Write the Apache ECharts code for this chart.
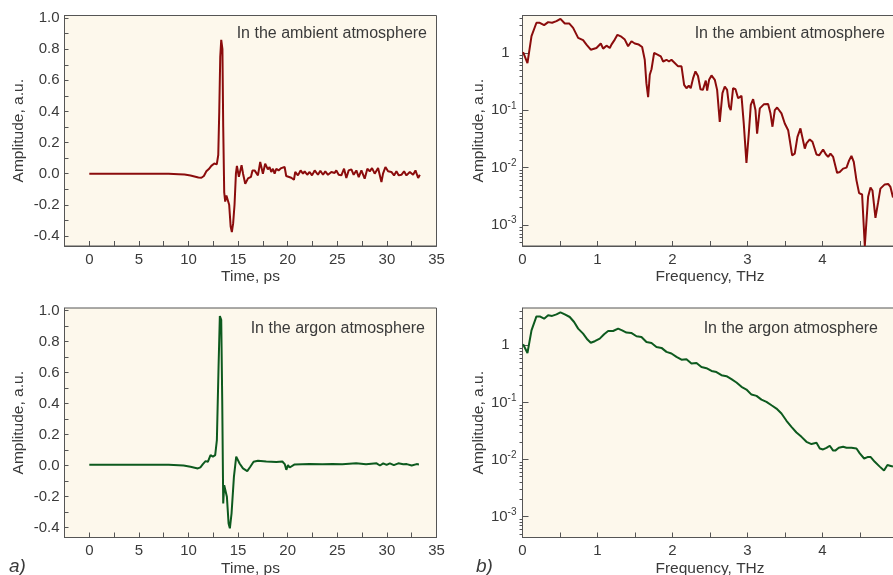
<!DOCTYPE html>
<html>
<head>
<meta charset="utf-8">
<script src="https://cdn.jsdelivr.net/npm/echarts@6/dist/echarts.min.js"></script>
<style>
html, body { margin: 0; padding: 0; background: #fff; }
#chart { width: 893px; height: 575px; }
</style>
</head>
<body>
<div id="chart"></div>
<script>
// time-domain pulse, ambient atmosphere
const timeAmbient = [0, 1, 2, 3, 4, 5, 6, 7, 8, 9, 9.6, 10.2, 10.7, 11.0, 11.3, 11.55, 11.8, 12.05, 12.3, 12.6, 12.85,
	13.0, 13.1, 13.2, 13.3, 13.42, 13.5, 13.6, 13.7, 13.82, 13.95, 14.1, 14.25, 14.37, 14.5, 14.64, 14.78, 14.88,
	15.08, 15.35, 15.5, 15.72, 16.0, 16.3, 16.45, 16.66, 17.0, 17.23, 17.5, 17.73, 18.0, 18.17, 18.34, 18.51, 18.68,
	18.85, 19.08, 19.35, 19.52, 19.69, 19.85, 20.02, 20.36, 20.63, 20.76, 21.03, 21.3, 21.54, 21.71, 21.97, 22.21,
	22.45, 22.72, 22.88, 23.05, 23.29, 23.56, 23.79, 24.06, 24.4, 24.73, 24.9, 25.14, 25.41, 25.68, 25.91, 26.15,
	26.42, 26.65, 26.92, 27.16, 27.43, 27.76, 28.03, 28.27, 28.5, 28.77, 29.11, 29.45, 29.61, 29.85, 30.12, 30.45,
	30.72, 30.96, 31.2, 31.46, 31.73, 31.97, 32.31, 32.64, 32.88, 33.15, 33.32]
const ampAmbient = [0, 0, 0, 0, 0, 0, 0, 0, -0.001, -0.003, -0.006, -0.012, -0.02, -0.025, -0.026, -0.015, 0.015, 0.03, 0.05, 0.065, 0.06,
	0.12, 0.4, 0.75, 0.86, 0.8, 0.3, -0.12, -0.18, -0.14, -0.15, -0.2, -0.34, -0.375, -0.32, -0.2, 0.0, 0.05,
	-0.02, 0.055, 0.0, -0.065, -0.03, -0.02, 0.02, 0.021, -0.011, 0.075, 0.0, 0.064, 0.028, 0.043, 0.011, 0.032, 0.0,
	0.032, 0.021, 0.036, 0.032, 0.043, -0.015, -0.022, -0.026, -0.039, 0.011, -0.011, 0.021, 0.0, 0.015, -0.007, 0.011,
	-0.011, 0.021, 0.032, -0.007, 0.019, -0.007, 0.015, -0.007, 0.011, 0.004, 0.021, -0.007, -0.011, 0.032, -0.028, 0.021,
	0.028, -0.007, 0.021, -0.022, 0.021, -0.032, 0.032, 0.015, 0.036, 0.0, 0.036, -0.054, 0.0, 0.043, 0.015, 0.011,
	-0.011, 0.015, -0.011, -0.007, 0.015, -0.011, 0.011, -0.007, 0.021, -0.028, -0.007]

// time-domain pulse, argon atmosphere
const timeArgon = [0, 2, 4, 6, 8, 9.5, 10.2, 10.94, 11.2, 11.45, 11.72, 11.95, 12.22, 12.46, 12.69, 12.86, 13.03, 13.16,
	13.3, 13.4, 13.5, 13.6, 13.74, 13.87, 14.04, 14.17, 14.34, 14.58, 14.81, 14.95, 15.15, 15.49, 15.92, 16.23, 16.56,
	17.0, 17.84, 18.85, 19.46, 19.7, 19.86, 20.03, 20.2, 20.37, 20.7, 22.2, 23.5, 24.5, 25.5, 26.9, 27.9, 28.96, 29.3,
	29.63, 29.97, 30.3, 30.7, 31.15, 31.65, 32.0, 32.5, 33.0, 33.23]
const ampArgon = [0.005, 0.005, 0.005, 0.005, 0.004, 0.0, -0.008, -0.019, -0.012, 0.009, 0.028, 0.024, 0.067, 0.057, 0.067, 0.164, 0.638, 0.965,
	0.94, 0.42, -0.245, -0.127, -0.116, -0.202, -0.374, -0.406, -0.309, -0.072, 0.057, 0.061, 0.013, -0.019, -0.036, -0.008, 0.024,
	0.031, 0.026, 0.022, 0.026, 0.009, -0.028, 0.002, -0.013, -0.008, 0.007, 0.01, 0.008, 0.01, 0.008, 0.014, 0.008, 0.014, 0.0,
	0.014, 0.004, 0.014, 0.002, 0.014, 0.008, 0.009, 0.0, 0.009, 0.007]

// amplitude spectrum, ambient atmosphere
const freqAmbient = [0.008, 0.066, 0.12, 0.186, 0.23, 0.288, 0.342, 0.395, 0.453, 0.506, 0.564, 0.622, 0.675, 0.742, 0.808,
	0.853, 0.91, 0.986, 1.044, 1.075, 1.12, 1.164, 1.186, 1.23, 1.266, 1.31, 1.364, 1.408, 1.453, 1.497, 1.55, 1.595,
	1.63, 1.652, 1.675, 1.697, 1.72, 1.755, 1.8, 1.844, 1.875, 1.92, 1.953, 1.986, 2.03, 2.075, 2.12, 2.155, 2.186,
	2.217, 2.243, 2.275, 2.306, 2.34, 2.373, 2.405, 2.444, 2.462, 2.488, 2.52, 2.564, 2.595, 2.63, 2.666, 2.697, 2.728,
	2.755, 2.777, 2.808, 2.84, 2.875, 2.92, 2.95, 2.986, 3.017, 3.044, 3.075, 3.106, 3.128, 3.164, 3.217, 3.275, 3.306,
	3.333, 3.364, 3.395, 3.453, 3.497, 3.542, 3.564, 3.595, 3.63, 3.666, 3.706, 3.728, 3.764, 3.786, 3.83, 3.866, 3.92,
	3.955, 4.008, 4.044, 4.075, 4.106, 4.142, 4.195, 4.23, 4.275, 4.32, 4.355, 4.386, 4.417, 4.453, 4.488, 4.528, 4.564,
	4.608, 4.64, 4.666, 4.706, 4.742, 4.772, 4.83, 4.875, 4.906, 4.94]
const specAmbient = [1.03, 0.667, 1.96, 3.36, 3.36, 3.06, 3.45, 3.36, 3.59, 3.94, 3.27, 3.27, 2.74, 1.83, 1.67,
	1.4, 1.14, 1.22, 1.46, 1.19, 1.34, 1.22, 1.4, 1.71, 2.07, 1.95, 1.71, 1.31, 1.6, 1.46, 1.4, 1.27,
	0.76, 0.297, 0.169, 0.417, 0.52, 1.0, 0.935, 0.87, 0.71, 0.76, 0.71, 0.76, 0.667, 0.584, 0.584, 0.278, 0.243,
	0.268, 0.243, 0.364, 0.477, 0.396, 0.233, 0.227, 0.33, 0.22, 0.34, 0.405, 0.34, 0.227, 0.063, 0.199, 0.26, 0.227,
	0.116, 0.101, 0.243, 0.233, 0.162, 0.178, 0.059, 0.0121, 0.039, 0.124, 0.156, 0.101, 0.039, 0.108, 0.127, 0.129, 0.0885,
	0.0517, 0.101, 0.112, 0.0885, 0.059, 0.045, 0.03, 0.0164, 0.0176, 0.0345, 0.0483, 0.0354, 0.0215, 0.0265, 0.0311, 0.0283, 0.0169,
	0.0164, 0.0207, 0.0171, 0.0154, 0.0176, 0.0154, 0.0081, 0.0084, 0.0096, 0.01, 0.0134, 0.016, 0.0126, 0.006, 0.0036, 0.0034, 0.00043,
	0.0031, 0.0045, 0.004, 0.00133, 0.0025, 0.0043, 0.0051, 0.0052, 0.0046, 0.003]

// amplitude spectrum, argon atmosphere
const freqArgon = [0.008, 0.066, 0.12, 0.186, 0.23, 0.288, 0.342, 0.395, 0.453, 0.506, 0.564, 0.63, 0.688, 0.742, 0.808,
	0.866, 0.91, 0.964, 1.03, 1.088, 1.142, 1.208, 1.275, 1.328, 1.386, 1.45, 1.52, 1.586, 1.653, 1.72, 1.786, 1.853,
	1.92, 1.986, 2.053, 2.12, 2.186, 2.253, 2.32, 2.386, 2.453, 2.52, 2.586, 2.653, 2.72, 2.786, 2.853, 2.92, 2.986,
	3.053, 3.12, 3.186, 3.253, 3.32, 3.386, 3.453, 3.52, 3.586, 3.653, 3.72, 3.786, 3.853, 3.92, 3.964, 4.008, 4.053,
	4.097, 4.142, 4.17, 4.217, 4.275, 4.32, 4.386, 4.453, 4.497, 4.555, 4.6, 4.643, 4.697, 4.763, 4.82, 4.866, 4.91, 4.94]
const specArgon = [1.04, 0.734, 1.83, 3.21, 3.21, 2.92, 3.35, 3.27, 3.48, 3.78, 3.48, 3.13, 2.56, 1.96, 1.6,
	1.26, 1.11, 1.18, 1.31, 1.56, 1.78, 1.78, 1.96, 1.83, 1.67, 1.65, 1.44, 1.4, 1.14, 1.1, 0.935, 0.9,
	0.766, 0.717, 0.625, 0.56, 0.57, 0.48, 0.49, 0.418, 0.397, 0.356, 0.34, 0.3, 0.288, 0.255, 0.223, 0.187, 0.168,
	0.137, 0.13, 0.112, 0.102, 0.089, 0.078, 0.064, 0.0476, 0.0373, 0.0297, 0.0249, 0.0204, 0.0186, 0.0196, 0.0156, 0.015, 0.016,
	0.0174, 0.0143, 0.0143, 0.016, 0.0167, 0.016, 0.016, 0.0156, 0.0128, 0.0104, 0.011, 0.011, 0.0091, 0.0075, 0.0064, 0.008, 0.0077, 0.0075]

// tick marks and labels
const timeLabels = [0, 5, 10, 15, 20, 25, 30, 35]
const timeTicks = [0, 2.5, 5, 7.5, 10, 12.5, 15, 17.5, 20, 22.5, 25, 27.5, 30, 32.5, 35]
const ampLabels = [-0.4, -0.2, 0, 0.2, 0.4, 0.6, 0.8, 1.0]
const ampTicks = [-0.4, -0.3, -0.2, -0.1, 0, 0.1, 0.2, 0.3, 0.4, 0.5, 0.6, 0.7, 0.8, 0.9, 1.0]
const freqLabels = [0, 1, 2, 3, 4]
const freqTicks = [0, 0.5, 1, 1.5, 2, 2.5, 3, 3.5, 4, 4.5]
const logLabels = [0.001, 0.01, 0.1, 1]
const logMinorTicks = [0.0005, 0.0006, 0.0007, 0.0008, 0.0009, 0.002, 0.003, 0.004, 0.005, 0.006, 0.007, 0.008, 0.009,
	0.02, 0.03, 0.04, 0.05, 0.06, 0.07, 0.08, 0.09, 0.2, 0.3, 0.4, 0.5, 0.6, 0.7, 0.8, 0.9, 2, 3, 4]

const font = 'Liberation Sans, Arial, sans-serif'
const ink = '#3a3a3a'
const frame = '#555555'
const paper = '#fdf8ec'
const red = '#8b0c0c'
const green = '#0d5a1e'

const zip = (xs, ys) => xs.map((x, i) => [x, ys[i]])

const labelStyle = { color: ink, fontSize: 15, fontFamily: font }
const nameStyle = { color: ink, fontSize: 15.5, fontFamily: font }

const grid = (left, top, width, height) => ({
	left, top, width, height,
	show: true, backgroundColor: paper, borderColor: frame, borderWidth: 1,
	containLabel: false, outerBoundsMode: 'none'
})

const timeX = gridIndex => ({
	type: 'value', gridIndex, min: -2.5, max: 35,
	name: 'Time, ps', nameLocation: 'middle', nameGap: 23, nameTextStyle: nameStyle,
	axisLine: { show: true, onZero: false, lineStyle: { color: frame, width: 1 } },
	axisTick: { show: true, inside: true, length: 5, customValues: timeTicks, lineStyle: { color: frame } },
	axisLabel: { ...labelStyle, margin: 6, customValues: timeLabels },
	splitLine: { show: false }
})

const ampY = gridIndex => ({
	type: 'value', gridIndex, min: -0.465, max: 1.017,
	name: 'Amplitude, a.u.', nameLocation: 'middle', nameGap: 38, nameTextStyle: nameStyle,
	axisLine: { show: true, onZero: false, lineStyle: { color: frame, width: 1 } },
	axisTick: { show: true, inside: true, length: 4, customValues: ampTicks, lineStyle: { color: frame } },
	axisLabel: { ...labelStyle, margin: 5, customValues: ampLabels, formatter: v => v.toFixed(1) },
	splitLine: { show: false }
})

const freqX = gridIndex => ({
	type: 'value', gridIndex, min: 0, max: 5,
	name: 'Frequency, THz', nameLocation: 'middle', nameGap: 23, nameTextStyle: nameStyle,
	axisLine: { show: true, onZero: false, lineStyle: { color: frame, width: 1 } },
	axisTick: { show: true, inside: true, length: 5, customValues: freqTicks, lineStyle: { color: frame } },
	axisLabel: { ...labelStyle, margin: 6, customValues: freqLabels },
	splitLine: { show: false }
})

const logY = gridIndex => ({
	type: 'log', logBase: 10, gridIndex, min: 0.00043, max: 4.5,
	name: 'Amplitude, a.u.', nameLocation: 'middle', nameGap: 35, nameTextStyle: nameStyle,
	axisLine: { show: true, onZero: false, lineStyle: { color: frame, width: 1 } },
	axisTick: { show: true, inside: true, length: 6, customValues: logLabels, lineStyle: { color: frame } },
	axisLabel: {
		...labelStyle, margin: 6, customValues: logLabels,
		formatter: v => {
			const p = Math.round(Math.log10(v))
			return p === 0 ? '{one|1}' : '{base|10}{sup|' + p + '}'
		},
		rich: {
			base: { ...labelStyle },
			one: { ...labelStyle, padding: [0, 7, 0, 0] },
			sup: { color: ink, fontSize: 10, fontFamily: font, padding: [0, 0, 9, 0] }
		}
	},
	splitLine: { show: false }
})

// second log axis carries only the short minor ticks
const logMinorY = gridIndex => ({
	type: 'log', logBase: 10, gridIndex, min: 0.00043, max: 4.5,
	axisLine: { show: false },
	axisTick: { show: true, inside: true, length: 3, customValues: logMinorTicks, lineStyle: { color: frame } },
	axisLabel: { show: false },
	splitLine: { show: false }
})

const line = (xAxisIndex, yAxisIndex, data, color) => ({
	type: 'line', xAxisIndex, yAxisIndex, data,
	showSymbol: false, symbol: 'none', smooth: false, clip: true,
	lineStyle: { color, width: 2 }, z: 3
})

const note = (x, y, text) => ({
	type: 'text', x, y, z: 10,
	style: { text, fill: ink, font: '16px ' + font, align: 'right', verticalAlign: 'middle' }
})

echarts.init(document.getElementById('chart')).setOption({
	animation: false,
	backgroundColor: '#ffffff',
	grid: [
		grid(64.5, 15.5, 372, 230.5),
		grid(522.5, 15.5, 375, 230.5),
		grid(64.5, 308, 372, 229.5),
		grid(522.5, 308, 375, 229.5)
	],
	xAxis: [timeX(0), freqX(1), timeX(2), freqX(3)],
	yAxis: [ampY(0), logY(1), logMinorY(1), ampY(2), logY(3), logMinorY(3)],
	series: [
		line(0, 0, zip(timeAmbient, ampAmbient), red),
		line(1, 1, zip(freqAmbient, specAmbient), red),
		line(2, 3, zip(timeArgon, ampArgon), green),
		line(3, 4, zip(freqArgon, specArgon), green)
	],
	graphic: [
		note(427, 34, 'In the ambient atmosphere'),
		note(885, 34, 'In the ambient atmosphere'),
		note(425, 329, 'In the argon atmosphere'),
		note(878, 329, 'In the argon atmosphere'),
		{ type: 'text', x: 9, y: 567, z: 10, style: { text: 'a)', fill: ink, font: 'italic 19px ' + font, verticalAlign: 'middle' } },
		{ type: 'text', x: 476, y: 567, z: 10, style: { text: 'b)', fill: ink, font: 'italic 19px ' + font, verticalAlign: 'middle' } }
	]
})
</script>
</body>
</html>
